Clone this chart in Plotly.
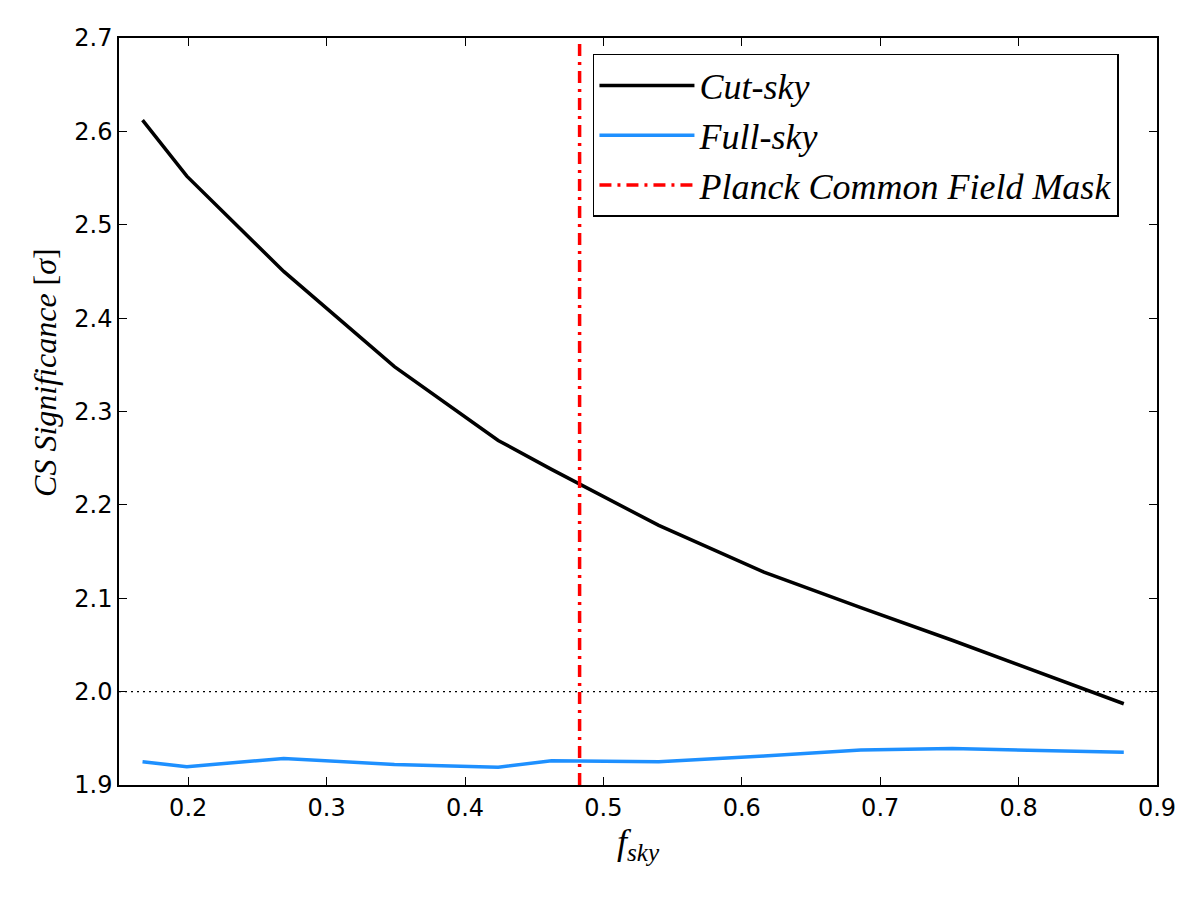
import plotly.graph_objects as go

f_sky = [0.167, 0.199, 0.269, 0.349, 0.424, 0.4625, 0.540, 0.616, 0.686, 0.752, 0.876]
cut_sky = [2.612, 2.552, 2.450, 2.348, 2.269, 2.238, 2.178, 2.128, 2.090, 2.055, 1.987]
full_sky = [1.925, 1.9196, 1.9285, 1.922, 1.919, 1.926, 1.925, 1.931, 1.9375, 1.939, 1.935]
mask_fsky = 0.4828
threshold = 2.0
x_ticks = [0.2, 0.3, 0.4, 0.5, 0.6, 0.7, 0.8, 0.9]
y_ticks = [1.9, 2.0, 2.1, 2.2, 2.3, 2.4, 2.5, 2.6, 2.7]

serif = "Liberation Serif"

fig = go.Figure()
fig.add_trace(go.Scatter(x=[0.15, 0.9], y=[threshold, threshold], mode="lines",
                         line=dict(color="black", width=1.3, dash="2px,4px"),
                         showlegend=False, hoverinfo="skip"))
fig.add_trace(go.Scatter(x=f_sky, y=cut_sky, mode="lines", name="<i>Cut-sky</i>",
                         line=dict(color="black", width=3.5)))
fig.add_trace(go.Scatter(x=f_sky, y=full_sky, mode="lines", name="<i>Full-sky</i>",
                         line=dict(color="#1E90FF", width=3.5)))
fig.add_trace(go.Scatter(x=[mask_fsky, mask_fsky], y=[1.9, 2.7], mode="lines",
                         name="<i>Planck Common Field Mask</i>",
                         line=dict(color="red", width=3.5, dash="12px,6px,3px,6px")))

axis_common = dict(showgrid=False, zeroline=False, showline=True, linecolor="black",
                   linewidth=1.5, mirror="ticks", ticks="inside", ticklen=8,
                   tickwidth=1, tickcolor="black",
                   tickfont=dict(family="DejaVu Sans", size=24, color="black"))

fig.update_xaxes(range=[0.15, 0.9], tickvals=x_ticks,
                 ticktext=[f"{v:.1f}" for v in x_ticks],
                 title=dict(text="<i>f</i><sub><i>sky</i></sub>",
                            font=dict(family=serif, size=36, color="black"), standoff=6),
                 **axis_common)
fig.update_yaxes(range=[1.9, 2.7], tickvals=y_ticks,
                 ticktext=[f"{v:.1f}" for v in y_ticks],
                 **axis_common)

fig.add_annotation(text="<i>CS Significance</i> [<i>σ</i>]", textangle=-90,
                   xref="paper", yref="paper", x=-0.0713, y=0.553,
                   xanchor="center", yanchor="middle", showarrow=False,
                   font=dict(family=serif, size=32, color="black"))

fig.update_layout(
    width=1200, height=900,
    margin=dict(l=119, r=43, t=38, b=115),
    plot_bgcolor="white", paper_bgcolor="white",
    legend=dict(x=0.4566, y=0.9786, xanchor="left", yanchor="top",
                bordercolor="black", borderwidth=1.5, bgcolor="white",
                font=dict(family=serif, size=36, color="black"),
                itemwidth=95, tracegroupgap=0),
)

fig.write_html("out.html")
